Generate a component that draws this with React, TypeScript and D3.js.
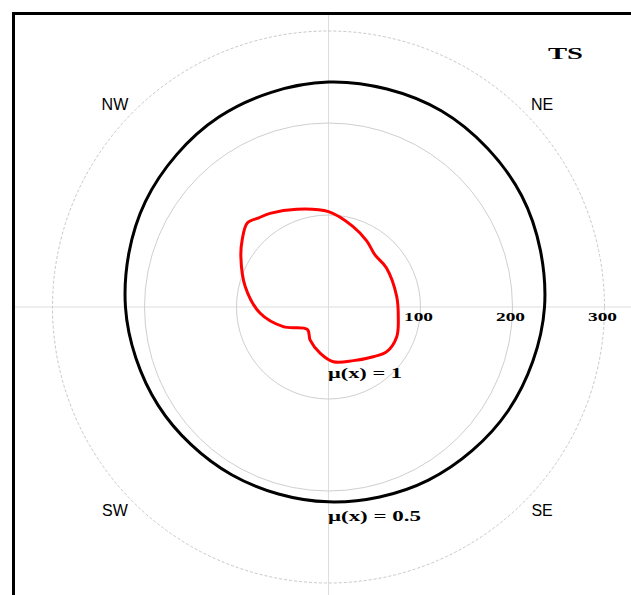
import React from "react";
import * as d3 from "d3";

const W = 631;
const H = 595;

// Red contour, μ(x) = 1 : bearing (deg, clockwise from north) and radius
const redAngles = [0, 17, 30, 42, 56, 81, 98, 113.5, 127.5, 138, 155, 175, 190, 209, 223.5, 246.5, 265, 284, 300, 308, 316, 322, 328, 342];
const redRadii = [103.6, 91.4, 83, 75.8, 76, 75, 76.6, 80.9, 79.8, 72.7, 64.3, 59.7, 51.2, 41.1, 33.5, 53.6, 74.8, 93.4, 110, 119, 127, 123, 120, 111.7];

// Black contour, μ(x) = 0.5
const blackAngles = [0, 30, 60, 90, 120, 150, 180, 210, 240, 270, 300, 330];
const blackRadii = [244.5, 245.9, 242.3, 234.8, 225.5, 217.2, 211.8, 210.6, 213.8, 220.7, 229.7, 238.4];

const ringValues = [100, 200, 300];
const ringLabels = ["100", "200", "300"];
const directions = ["NE", "SE", "SW", "NW"];
const directionAngles = [46.5, 133.5, 226.5, 313.5];

export default function App() {
  const cx = 328.5;
  const cy = 307;
  const r = d3.scaleLinear().domain([0, 300]).range([0, 276]);
  const rad = (deg: number) => (deg * Math.PI) / 180;

  const line = d3
    .lineRadial<[number, number]>()
    .angle((d) => rad(d[0]))
    .radius((d) => r(d[1]))
    .curve(d3.curveCatmullRomClosed.alpha(0.5));

  const redPath = line(redAngles.map((a, i) => [a, redRadii[i]] as [number, number])) || "";
  const blackPath = line(blackAngles.map((a, i) => [a, blackRadii[i]] as [number, number])) || "";

  const serif = "'Liberation Serif', 'Times New Roman', serif";
  const sans = "'Liberation Sans', Arial, sans-serif";

  return (
    <svg
      width={W}
      height={H}
      style={{ position: "absolute", left: 0, top: 0, background: "#fff" }}
    >
      <rect x={0} y={0} width={W} height={H} fill="#fff" />
      {/* crosshair */}
      <line x1={15} x2={W} y1={cy} y2={cy} stroke="#ddd" strokeWidth={1} />
      <line x1={cx} x2={cx} y1={15} y2={H} stroke="#ddd" strokeWidth={1} />
      {/* rings */}
      {ringValues.map((v, i) => (
        <circle
          key={v}
          cx={cx}
          cy={cy}
          r={r(v)}
          fill="none"
          stroke={i === 2 ? "#c8c8c8" : "#cfcfcf"}
          strokeWidth={1}
          strokeDasharray={i === 2 ? "3,2" : undefined}
        />
      ))}
      <g transform={`translate(${cx},${cy})`}>
        <path d={blackPath} fill="none" stroke="#000" strokeWidth={3} />
        <path d={redPath} fill="none" stroke="#f00" strokeWidth={3} />
      </g>
      {/* ring labels */}
      {ringValues.map((v, i) => (
        <text
          key={"l" + v}
          x={cx + r(v) - 2 - 14.5}
          y={cy + 14}
          fontFamily={serif}
          fontWeight="bold"
          fontSize={12}
          textLength={29}
          lengthAdjust="spacingAndGlyphs"
          fill="#000"
        >
          {ringLabels[i]}
        </text>
      ))}
      {/* direction labels */}
      {directions.map((d, i) => {
        const a = rad(directionAngles[i]);
        const rr = r(320);
        return (
          <text
            key={d}
            x={cx + rr * Math.sin(a)}
            y={cy - rr * Math.cos(a) + 6}
            textAnchor="middle"
            fontFamily={sans}
            fontSize={16}
            fill="#000"
          >
            {d}
          </text>
        );
      })}
      <text x={328} y={378} fontFamily={serif} fontWeight="bold" fontSize={14} textLength={74} lengthAdjust="spacingAndGlyphs" fill="#000">
        μ(x) = 1
      </text>
      <text x={328} y={521} fontFamily={serif} fontWeight="bold" fontSize={14} textLength={93} lengthAdjust="spacingAndGlyphs" fill="#000">
        μ(x) = 0.5
      </text>
      <text x={548} y={59} fontFamily={serif} fontWeight="bold" fontSize={16} textLength={35} lengthAdjust="spacingAndGlyphs" fill="#000">
        TS
      </text>
      {/* frame */}
      <rect x={13.5} y={13.5} width={W + 20} height={H + 20} fill="none" stroke="#000" strokeWidth={3} />
    </svg>
  );
}
